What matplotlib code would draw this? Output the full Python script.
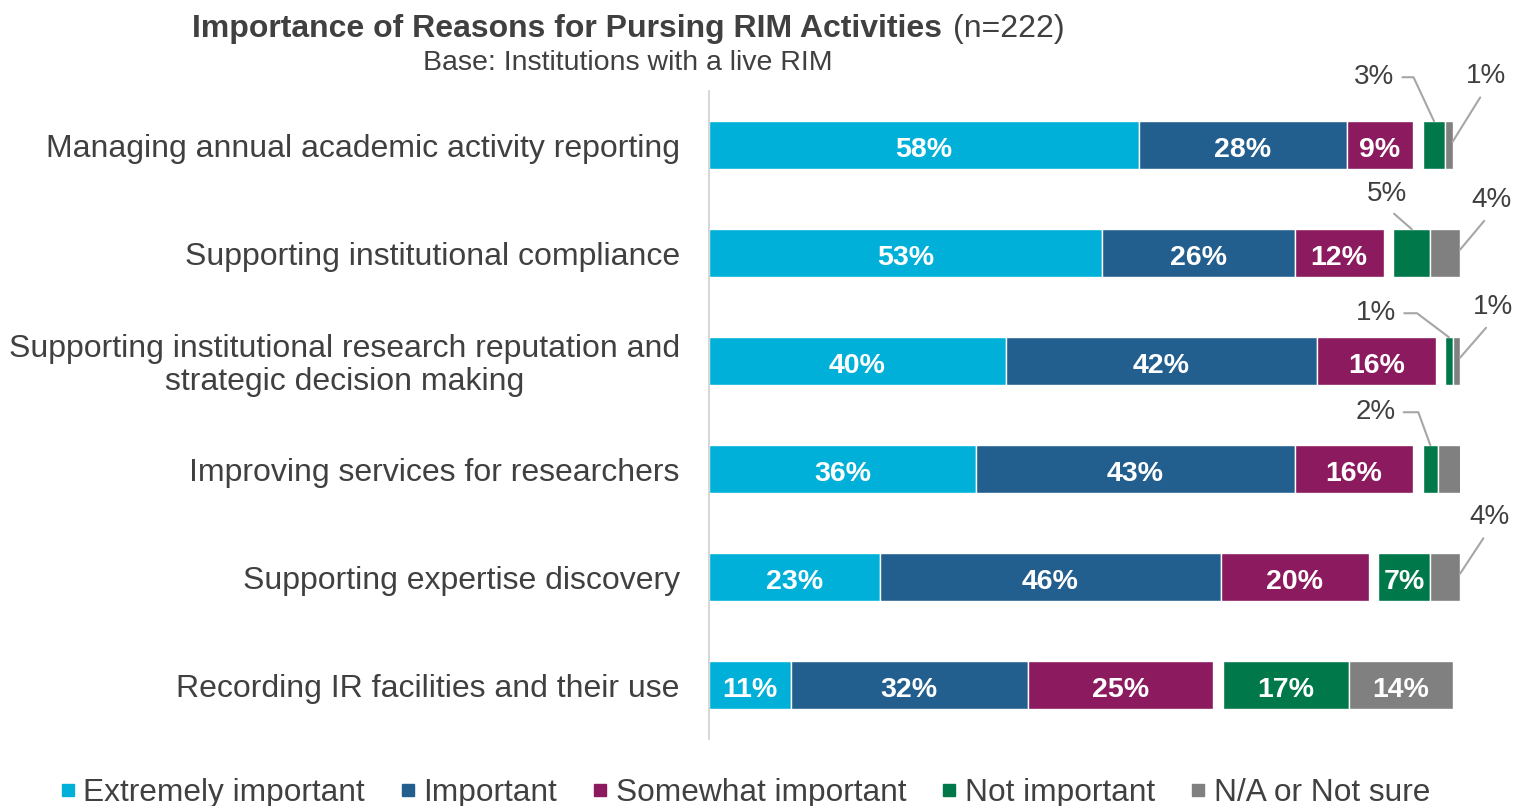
import matplotlib.pyplot as plt
from matplotlib.lines import Line2D

# categories (top to bottom) and the five answer series, in percent
categories = [
    'Managing annual academic activity reporting',
    'Supporting institutional compliance',
    'Supporting institutional research reputation and\nstrategic decision making',
    'Improving services for researchers',
    'Supporting expertise discovery',
    'Recording IR facilities and their use',
]
extremely = [58, 53, 40, 36, 23, 11]
important = [28, 26, 42, 43, 46, 32]
somewhat = [9, 12, 16, 16, 20, 25]
not_important = [3, 5, 1, 2, 7, 17]
not_sure = [1, 4, 1, 4, 4, 14]

series_names = ['Extremely important', 'Important', 'Somewhat important',
                'Not important', 'N/A or Not sure']
colors = ['#00B0D8', '#235F8E', '#8B1A5E', '#00784A', '#808080']

# small gap the original leaves before "Not important"
gap = 1.3
text_col = '#404040'
line_col = '#A6A6A6'

plt.rcParams['font.family'] = ['Liberation Sans', 'DejaVu Sans']

fig = plt.figure(figsize=(15.16, 8.06), dpi=100)
ax = fig.add_axes([709 / 1516, 1 - 739 / 806, 751 / 1516, 648 / 806])

series = [extremely, important, somewhat, not_important, not_sure]
rows = list(range(len(categories)))
lefts = [0] * len(categories)
segments = []  # (row, series index, left, value)
for k, vals in enumerate(series):
    if k == 3:
        lefts = [l + gap for l in lefts]
    ax.barh(rows, vals, left=lefts, height=0.44, color=colors[k],
            edgecolor='white', linewidth=1)
    for r in rows:
        segments.append((r, k, lefts[r], vals[r]))
    lefts = [l + v for l, v in zip(lefts, vals)]

# labels inside the wider segments
for r, k, left, v in segments:
    if v >= 6:
        ax.text(left + v / 2, r + 0.02, f'{v}%', ha='center', va='center_baseline',
                color='white', fontsize=20.5, fontweight='bold')

# leader-line labels for the thin segments (offsets in pixels)
left_lbl = {0: (-40, 44, 'angle,angleA=0,angleB=-65,rad=0', (1, 0.5)),
            1: (-5, 35, 'arc3', (0.5, 0)),
            2: (-53, 24, 'angle,angleA=0,angleB=-37,rad=0', (1, 0.5)),
            3: (-35, 33, 'angle,angleA=0,angleB=-70,rad=0', (1, 0.5))}
right_lbl = {0: (33, 66), 1: (31, 50), 2: (33, 51), 3: (31, 56), 4: (29, 57)}

for r, k, left, v in segments:
    if v >= 6:
        continue
    if k == 3:
        dx, dy, cs, rel = left_lbl[r]
        ax.annotate(f'{v}%', xy=(left + v / 2, r - 0.22), xytext=(dx, dy),
                    textcoords='offset pixels', ha='right', va='center',
                    fontsize=20, color=text_col,
                    arrowprops=dict(arrowstyle='-', color=line_col, lw=1.5,
                                    connectionstyle=cs, relpos=rel,
                                    shrinkA=4, shrinkB=0))
    elif k == 4:
        dx, dy = right_lbl[r]
        ax.annotate(f'{v}%', xy=(left + v, r - 0.03), xytext=(dx, dy),
                    textcoords='offset pixels', ha='center', va='center',
                    fontsize=20, color=text_col,
                    arrowprops=dict(arrowstyle='-', color=line_col, lw=1.5,
                                    relpos=(0.5, 0), shrinkA=5, shrinkB=0))

ax.set_xlim(0, 100 + gap)
ax.set_ylim(len(categories) - 0.5, -0.5)
ax.set_xticks([])
ax.set_yticks(rows)
ax.set_yticklabels(categories, fontsize=23, color=text_col)
for lbl in ax.get_yticklabels():
    lbl.set_multialignment('center')
    lbl.set_linespacing(1.1)
ax.tick_params(axis='y', length=0, pad=21)
for s in ['top', 'right', 'bottom']:
    ax.spines[s].set_visible(False)
ax.spines['left'].set_color('#D0D0D0')
ax.spines['left'].set_linewidth(1.2)

# title: bold part plus regular "(n=222)", subtitle below
fig.text(942 / 1516, 1 - 29 / 806, 'Importance of Reasons for Pursing RIM Activities',
         ha='right', va='center', fontsize=23, fontweight='bold', color=text_col)
fig.text(953 / 1516, 1 - 29 / 806, '(n=222)', ha='left', va='center',
         fontsize=23, color=text_col)
fig.text(628 / 1516, 1 - 63 / 806, 'Base: Institutions with a live RIM',
         ha='center', va='center', fontsize=20.5, color=text_col)

handles = [Line2D([], [], marker='s', linestyle='', color=c, markersize=9)
           for c in colors]
fig.legend(handles, series_names, loc='center left',
           bbox_to_anchor=(58 / 1516, 1 - 793 / 806), ncol=5, frameon=False,
           fontsize=22.8, handlelength=0.6, handletextpad=0.2,
           columnspacing=1.05, borderpad=0, borderaxespad=0,
           labelcolor=text_col)

fig.savefig('out.png', dpi=100)
